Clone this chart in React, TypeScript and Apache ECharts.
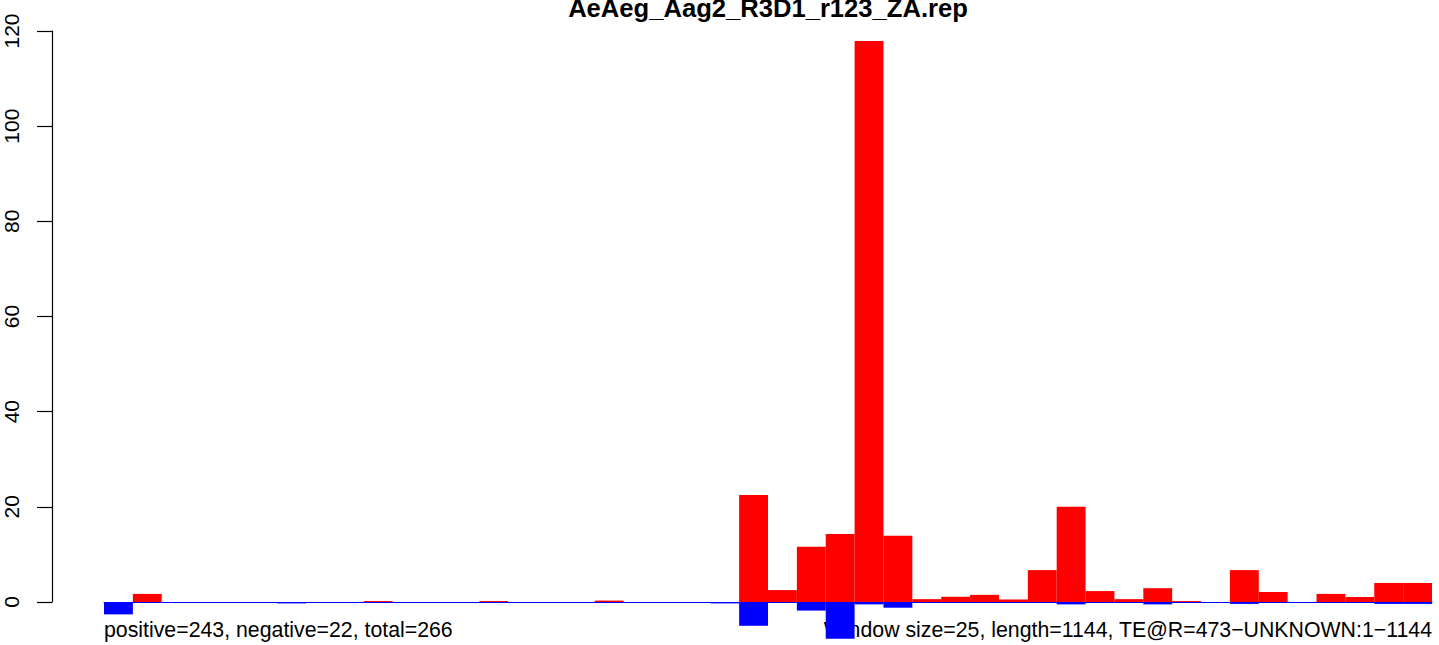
import React, { useEffect, useRef } from "react";
import * as echarts from "echarts";

const windows: string[] = Array.from({ length: 46 }, (_, i) => String(i + 1));

const positiveValues: number[] = [
  0, 1.7, 0, 0, 0, 0, 0, 0, 0, 0.2,
  0, 0, 0, 0.2, 0, 0, 0, 0.3, 0, 0,
  0, 0, 22.5, 2.5, 11.6, 14.3, 117.9, 13.9, 0.6, 1.1,
  1.5, 0.55, 6.7, 20.0, 2.3, 0.6, 2.9, 0.2, 0, 6.7,
  2.1, 0, 1.7, 1.05, 4.0, 4.0,
];

const negativeValues: number[] = [
  -2.6, 0, 0, 0, 0, 0, -0.3, 0, 0, 0,
  0, 0, 0, 0, 0, 0, 0, 0, 0, 0,
  0, -0.3, -5.0, 0, -1.8, -7.7, -0.5, -1.2, 0, 0,
  0, 0, 0, -0.5, -0.2, 0, -0.5, 0, 0, -0.4,
  0, 0, 0, 0, -0.4, -0.4,
];

const yTicks: number[] = [0, 20, 40, 60, 80, 100, 120];

const titleText = "AeAeg_Aag2_R3D1_r123_ZA.rep";
const leftNote = "positive=243, negative=22, total=266";
const rightNote = "Window size=25, length=1144, TE@R=473\u2212UNKNOWN:1\u22121144";

const FONT = "'Liberation Sans', Arial, Helvetica, sans-serif";

export default function App() {
  const ref = useRef<HTMLDivElement>(null);

  useEffect(() => {
    document.body.style.margin = "0";
    if (!ref.current) return;
    const chart = echarts.init(ref.current, undefined, { renderer: "svg" });
    chart.setOption({
      animation: false,
      backgroundColor: "#ffffff",
      grid: { left: 104, top: 31, width: 1328, height: 571 },
      xAxis: {
        type: "category",
        data: windows,
        axisLine: { show: true, lineStyle: { color: "#0000ff", width: 1 } },
        axisTick: { show: false },
        axisLabel: { show: false },
        splitLine: { show: false },
      },
      yAxis: {
        type: "value",
        min: yTicks[0],
        max: yTicks[yTicks.length - 1],
        interval: 20,
        position: "left",
        offset: 52,
        axisLine: { show: true, lineStyle: { color: "#000000", width: 1.2 } },
        axisTick: { show: true, length: 15, lineStyle: { color: "#000000", width: 1.2 } },
        axisLabel: {
          show: true,
          rotate: 90,
          margin: 30,
          color: "#000000",
          fontSize: 21,
          fontFamily: FONT,
        },
        splitLine: { show: false },
      },
      series: [
        {
          name: "positive",
          type: "bar",
          data: positiveValues,
          barGap: "-100%",
          barCategoryGap: "0%",
          clip: false,
          itemStyle: { color: "#ff0000" },
          z: 2,
        },
        {
          name: "negative",
          type: "bar",
          data: negativeValues,
          barGap: "-100%",
          barCategoryGap: "0%",
          clip: false,
          itemStyle: { color: "#0000ff" },
          z: 3,
        },
      ],
      graphic: [
        {
          type: "text",
          x: 768,
          y: 8,
          style: {
            text: titleText,
            fontFamily: FONT,
            fontWeight: "bold",
            fontSize: 25.6,
            fill: "#000000",
            align: "center",
            verticalAlign: "middle",
          },
        },
        {
          type: "text",
          x: 104,
          y: 630,
          style: {
            text: leftNote,
            fontFamily: FONT,
            fontSize: 21.3,
            fill: "#000000",
            align: "left",
            verticalAlign: "middle",
          },
        },
        {
          type: "text",
          x: 1432,
          y: 630,
          style: {
            text: rightNote,
            fontFamily: FONT,
            fontSize: 21.3,
            fill: "#000000",
            align: "right",
            verticalAlign: "middle",
          },
        },
      ],
    });
    return () => chart.dispose();
  }, []);

  return (
    <div
      ref={ref}
      style={{ position: "absolute", left: 0, top: 0, width: 1439, height: 645 }}
    />
  );
}
